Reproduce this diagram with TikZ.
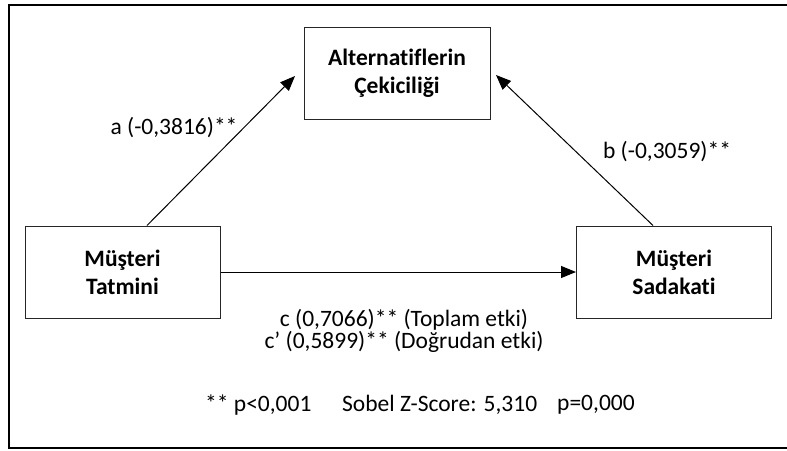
\documentclass[tikz,border=0pt]{standalone}
\usepackage{fontspec}
\setmainfont{Carlito}[Ligatures={CommonOff}]
\usepackage{tikz}
\usetikzlibrary{arrows.meta}

\begin{document}
\begin{tikzpicture}[x=1pt, y=-1pt,
	>={Triangle[length=15pt,width=12pt]},
    var/.style = {rectangle, draw=black!85, line width=1pt,
                  minimum width=195pt, minimum height=92pt,
                  align=center, font=\bfseries\fontsize{23.5}{28}\selectfont},
    coef/.style = {inner sep=0pt, align=center,
                   font=\fontsize{23.5}{19.5}\selectfont}]
  \useasboundingbox (0,0) rectangle (787,450);
  \draw[line width=2pt] (787,5) -- (8.5,5) -- (8.5,448) -- (787,448);

  \node (alt) [var, minimum width=186pt] at (397,73) {Alternatiflerin\\Çekiciliği};
  \node (tat) [var] at (122.5,272) {Müşteri\\Tatmini};
  \node (sad) [var] at (674,272) {Müşteri\\Sadakati};

  \coordinate (atip) at (295,76);
  \coordinate (btip) at (496,75);

  \draw[->, line width=1pt] ([xshift=24.5pt]tat.north) -- (atip);
  \draw[->, line width=1pt] ([xshift=-21pt]sad.north) -- (btip);
  \draw[->, line width=1pt] (tat.east) -- (sad.west);

  \node (alab) [coef] at (174,128) {a (-0,3816)**};
  \node (blab) [coef] at (667,152) {b (-0,3059)**};
  \node (clab) [coef] at (404,331) {c (0,7066)** (Toplam etki)\\c’ (0,5899)** (Doğrudan etki)};

  \node (sig) [coef, anchor=west] at (205,405) {** p<0,001};
  \node (sobel) [coef, anchor=west] at (342,405) {Sobel Z-Score: 5,310};
  \node (pval) [coef, anchor=west] at (557,405) {p=0,000};
\end{tikzpicture}
\end{document}
